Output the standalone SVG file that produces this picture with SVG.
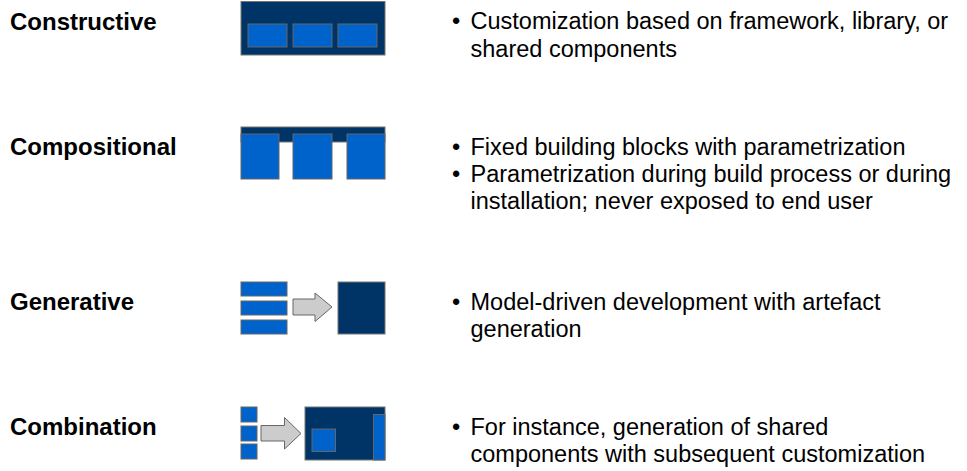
<svg xmlns="http://www.w3.org/2000/svg" width="967" height="471" viewBox="0 0 967 471">
<style>
.lbl{font-family:"Liberation Sans",Arial,Helvetica,sans-serif;font-weight:bold;font-size:24px;fill:#000}
.txt{font-family:"Liberation Sans",Arial,Helvetica,sans-serif;font-size:23.5px;fill:#000}
.dark{fill:#003366;stroke:#777;stroke-width:1}
.blue{fill:#0063CB;stroke:#666;stroke-width:1}
.arr{fill:#CCCCCC;stroke:#666;stroke-width:1}
</style>
<rect width="967" height="471" fill="#fff"/>
<g id="constructive">
<text class="lbl" x="10" y="30">Constructive</text>
<rect class="dark" x="241" y="1.5" width="144" height="53.5"/>
<rect class="blue" x="248" y="24" width="39" height="23"/>
<rect class="blue" x="293" y="24" width="39" height="23"/>
<rect class="blue" x="338" y="24" width="39" height="23"/>
<text class="txt"><tspan x="452" y="29">•</tspan><tspan x="470.5" y="29">Customization based on framework, library, or</tspan><tspan x="470.5" y="57">shared components</tspan></text>
</g>
<g id="compositional">
<text class="lbl" x="10" y="155">Compositional</text>
<rect class="dark" x="241" y="127" width="144" height="15"/>
<rect class="blue" x="241" y="134" width="38" height="45"/>
<rect class="blue" x="293" y="134" width="39" height="45"/>
<rect class="blue" x="347" y="134" width="38" height="45"/>
<text class="txt"><tspan x="452" y="155">•</tspan><tspan x="470.5" y="155">Fixed building blocks with parametrization</tspan><tspan x="452" y="182">•</tspan><tspan x="470.5" y="182">Parametrization during build process or during</tspan><tspan x="470.5" y="209">installation; never exposed to end user</tspan></text>
</g>
<g id="generative">
<text class="lbl" x="10" y="310">Generative</text>
<rect class="blue" x="241" y="282" width="46" height="14"/>
<rect class="blue" x="241" y="301" width="46" height="14"/>
<rect class="blue" x="241" y="320" width="46" height="14"/>
<rect class="dark" x="338" y="282" width="47" height="52"/>
<text class="txt"><tspan x="452" y="310">•</tspan><tspan x="470.5" y="310">Model-driven development with artefact</tspan><tspan x="470.5" y="337">generation</tspan></text>
</g>
<g id="combination">
<text class="lbl" x="10" y="435">Combination</text>
<rect class="blue" x="241" y="407" width="16" height="15"/>
<rect class="blue" x="241" y="426" width="16" height="15"/>
<rect class="blue" x="241" y="444" width="16" height="15"/>
<rect class="dark" x="305" y="407" width="80" height="53"/>
<rect class="blue" x="312" y="429" width="23.5" height="22.5"/>
<rect class="blue" x="373.5" y="414.5" width="11.5" height="45.5"/>
<text class="txt"><tspan x="452" y="435">•</tspan><tspan x="470.5" y="435">For instance, generation of shared</tspan><tspan x="470.5" y="462">components with subsequent customization</tspan></text>
</g>
<g id="connectors">
<polygon class="arr" points="293,299 315,299 315,293 332,307 315,321.5 315,315 293,315"/>
<polygon class="arr" points="261,425.5 284.5,425.5 284.5,417.5 301,433.5 284.5,449 284.5,441 261,441"/>
</g>
</svg>
